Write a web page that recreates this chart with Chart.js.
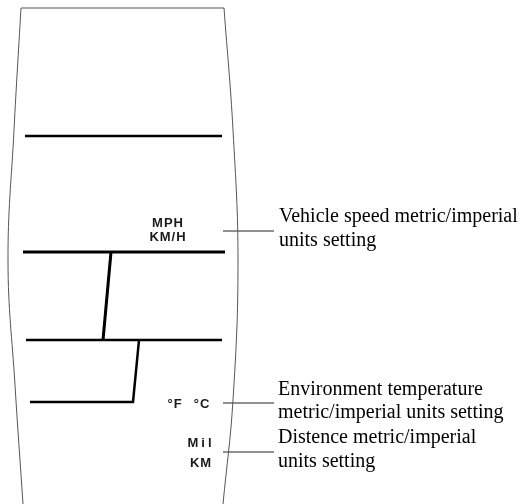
<!DOCTYPE html>
<html>
<head>
<meta charset="utf-8">
<script src="https://cdn.jsdelivr.net/npm/chart.js@4.4.1/dist/chart.umd.min.js"></script>
<style>
  body { margin: 0; background: #fff; }
</style>
</head>
<body>
<canvas id="diagram" width="521" height="504"></canvas>
<script>
// display housing outline (diagram units = pixels of the original drawing)
const topEdge = [[21, 8], [224, 8]];
const leftEdge = [[21, 8], [14, 130], [8, 262], [15, 385], [23, 504]];
const rightEdge = [[224, 8], [233, 130], [238, 262], [233, 400], [223, 504]];

// LCD segment strokes
const segTop = [[25, 136], [222, 136]];
const segMid = [[23, 252], [225, 252]];
const segLow = [[26, 340], [222, 340]];
const segBottom = [[30, 402], [133, 402], [139, 340]];
const segSlant = [[111, 252], [103, 340]];

// leader lines to the callouts
const leaderSpeed = [[223, 231], [274, 231]];
const leaderTemp = [[223, 403], [274, 403]];
const leaderDist = [[223, 452], [274, 452]];

// unit markings on the display
const unitLabels = ['MPH', 'KM/H', '°F', '°C', 'Mil', 'KM'];
const unitPos = [[168, 223], [168, 237], [175, 404], [202, 404], [201, 443], [201, 463]];

// callout text
const calloutLabels = [
  'Vehicle speed metric/imperial', 'units setting',
  'Environment temperature', 'metric/imperial units setting',
  'Distence metric/imperial', 'units setting'
];
const calloutPos = [[279, 217], [279, 241], [278, 390], [278, 413], [278, 438], [278, 462]];

const pts = arr => arr.map(p => ({x: p[0], y: p[1]}));

const line = (arr, width, color, tension) => ({
  data: pts(arr),
  showLine: true,
  borderColor: color,
  borderWidth: width,
  pointRadius: 0,
  tension: tension || 0,
  fill: false,
  clip: false
});

const textPlugin = {
  id: 'diagramText',
  afterDatasetsDraw(chart) {
    const {ctx, scales: {x, y}} = chart;
    ctx.save();
    ctx.textBaseline = 'middle';
    ctx.fillStyle = '#1a1a1a';
    ctx.textAlign = 'center';
    ctx.font = 'bold 13px "Liberation Sans", Arial, sans-serif';
    unitLabels.forEach((t, i) => {
      ctx.letterSpacing = t === 'Mil' ? '3px' : '1px';
      ctx.fillText(t, x.getPixelForValue(unitPos[i][0]), y.getPixelForValue(unitPos[i][1]));
    });
    ctx.letterSpacing = '0px';
    ctx.fillStyle = '#000';
    ctx.textAlign = 'left';
    ctx.font = '20px "Liberation Serif", "Times New Roman", serif';
    calloutLabels.forEach((t, i) => {
      ctx.fillText(t, x.getPixelForValue(calloutPos[i][0]), y.getPixelForValue(calloutPos[i][1]));
    });
    ctx.restore();
  }
};

new Chart(document.getElementById('diagram'), {
  type: 'scatter',
  data: {
    datasets: [
      line(topEdge, 1, '#555'),
      line(leftEdge, 1, '#555', 0.4),
      line(rightEdge, 1, '#555', 0.4),
      line(segTop, 2.5, '#000'),
      line(segMid, 3, '#000'),
      line(segLow, 2.5, '#000'),
      line(segBottom, 2.5, '#000'),
      line(segSlant, 3, '#000'),
      line(leaderSpeed, 1, '#222'),
      line(leaderTemp, 1, '#222'),
      line(leaderDist, 1, '#222')
    ]
  },
  options: {
    responsive: false,
    animation: false,
    layout: { padding: 0 },
    scales: {
      x: { type: 'linear', min: 0, max: 521, display: false },
      y: { type: 'linear', min: 0, max: 504, reverse: true, display: false }
    },
    plugins: {
      legend: { display: false },
      tooltip: { enabled: false }
    }
  },
  plugins: [textPlugin]
});
</script>
</body>
</html>
